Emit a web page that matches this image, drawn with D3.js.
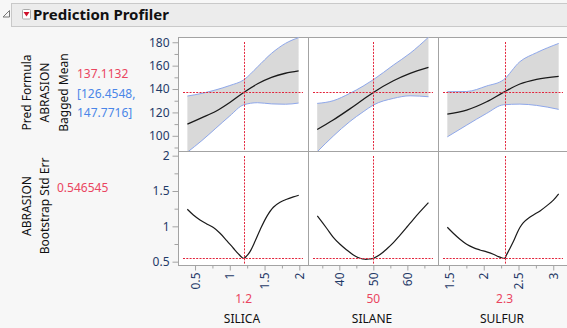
<!DOCTYPE html>
<html><head><meta charset="utf-8">
<script src="https://cdn.jsdelivr.net/npm/d3@7"></script>
<style>
html,body{margin:0;padding:0;background:#f7f7f7;}
svg{display:block;font-family:"Noto Sans","Open Sans",sans-serif;}
</style></head><body>
<svg id="c" width="567" height="328"></svg>
<script>
// ---------- data ----------
const factors = ["SILICA", "SILANE", "SULFUR"];
const currentX = [1.2, 50, 2.3];
const currentLabels = ["1.2", "50", "2.3"];
const predValue = 137.1132;
const predLower = 126.4548;
const predUpper = 147.7716;
const stdErrValue = 0.546545;

// prediction (bagged mean) with confidence band
const silicaX = [0.39, 0.6, 0.8, 1.0, 1.2, 1.4, 1.6, 1.8, 1.99];
const silicaMean = [110, 115.5, 121, 128.5, 137.1, 144.5, 150, 153.5, 155.5];
const silicaUpper = [134, 136.3, 139.3, 143, 147.8, 159, 170.5, 179, 184];
const silicaLower = [86, 96, 106.5, 117, 126.5, 128.3, 127.3, 127, 128];

const silaneX = [33.5, 38.2, 43.1, 47, 50, 55.9, 60.8, 66.2];
const silaneMean = [105.4, 113.5, 123, 131, 137.1, 147.1, 153.4, 158.6];
const silaneUpper = [127.7, 130, 136.3, 142.5, 148, 160.5, 170.6, 184.3];
const silaneLower = [86.3, 99.7, 112.2, 120.5, 126.3, 132, 134.2, 133.4];

const sulfurX = [1.476, 1.754, 2.042, 2.282, 2.52, 2.76, 3.078];
const sulfurMean = [118.6, 122, 129.1, 137.1, 144.3, 148.3, 150.9];
const sulfurUpper = [137.7, 137.9, 142.6, 147.8, 163.4, 171.1, 179];
const sulfurLower = [99.1, 109.1, 119.2, 126.5, 127.1, 126, 122.6];

// bootstrap std err
const silicaSEx = [0.389, 0.476, 0.572, 0.668, 0.764, 0.860, 0.956, 1.052, 1.124, 1.172, 1.2, 1.243, 1.291, 1.363, 1.435, 1.531, 1.627, 1.723, 1.819, 1.914, 1.992];
const silicaSE = [1.242, 1.161, 1.091, 1.034, 0.982, 0.902, 0.798, 0.690, 0.610, 0.563, 0.5465, 0.581, 0.643, 0.788, 0.949, 1.138, 1.270, 1.340, 1.383, 1.416, 1.440];

const silaneSEx = [33.54, 36.28, 38.24, 40.21, 42.17, 44.13, 46.09, 47.56, 49.03, 50, 51.97, 53.93, 55.89, 57.85, 59.81, 61.77, 63.74, 66.19];
const silaneSE = [1.147, 0.973, 0.845, 0.746, 0.666, 0.595, 0.548, 0.534, 0.539, 0.5465, 0.600, 0.680, 0.770, 0.876, 0.987, 1.100, 1.208, 1.336];

const sulfurSEx = [1.476, 1.562, 1.658, 1.754, 1.850, 1.946, 2.042, 2.138, 2.210, 2.258, 2.3, 2.329, 2.378, 2.426, 2.474, 2.522, 2.570, 2.642, 2.714, 2.810, 2.906, 3.002, 3.078];
const sulfurSE = [0.987, 0.902, 0.817, 0.746, 0.699, 0.666, 0.638, 0.605, 0.572, 0.556, 0.5465, 0.600, 0.690, 0.784, 0.892, 0.987, 1.053, 1.114, 1.161, 1.218, 1.290, 1.370, 1.458];

const topTicks = [100, 120, 140, 160, 180];
const topMinor = [90, 110, 130, 150, 170];
const botTicks = [0.5, 1, 1.5, 2];
const botTickLabels = ["0.5", "1", "1.5", "2"];
const botMinor = [0.75, 1.25, 1.75];
const xTicks = [[0.5, 1, 1.5, 2], [40, 50, 60], [1.5, 2, 2.5, 3]];
const xTickLabels = [["0.5", "1", "1.5", "2"], ["40", "50", "60"], ["1.5", "2", "2.5", "3"]];
const xMinor = [[0.75, 1.25, 1.75], [35, 45, 55, 65], [1.75, 2.25, 2.75]];

// ---------- layout ----------
const svg = d3.select("#c");
const W = 567, H = 328;
const pw = 130, px0 = 178;
const top0 = 37, mid = 151, bot = 265;
const xDomains = [[0.255, 2.125], [30.8, 69.0], [1.342, 3.212]];
const xs = xDomains.map((d, i) => d3.scaleLinear().domain(d).range([px0 + i * pw, px0 + (i + 1) * pw]));
const yTop = d3.scaleLinear().domain([87, 184.5]).range([mid, top0]);
const yBot = d3.scaleLinear().domain([0.453, 2.066]).range([bot, mid]);

const tickColor = "#1f3a68";
const red = "#e3243b";
const redText = "#ea4560";
const blueText = "#4a86e8";
const grid = "#a3a3a3";

svg.append("rect").attr("width", W).attr("height", H).attr("fill", "#f7f7f7");

// title bar
svg.append("rect").attr("x", 11.5).attr("y", 3.5).attr("width", W).attr("height", 23)
  .attr("fill", "#ececec").attr("stroke", "#c9c9c9");
svg.append("path").attr("d", "M3,17 L9.5,17 L9.5,10.5 Z").attr("fill", "none").attr("stroke", "#777").attr("stroke-width", 1);
svg.append("rect").attr("x", 22.5).attr("y", 9.5).attr("width", 8).attr("height", 9.5)
  .attr("fill", "#fff").attr("stroke", "#aaa").attr("rx", 1);
svg.append("path").attr("d", "M23.5,12 L29.5,12 L26.5,16.5 Z").attr("fill", "#d0102a");
svg.append("text").attr("x", 33).attr("y", 20).attr("font-size", 15).attr("font-weight", "bold")
  .attr("fill", "#111").text("Prediction Profiler");

const series = [
  {x: silicaX, m: silicaMean, u: silicaUpper, l: silicaLower, sx: silicaSEx, se: silicaSE},
  {x: silaneX, m: silaneMean, u: silaneUpper, l: silaneLower, sx: silaneSEx, se: silaneSE},
  {x: sulfurX, m: sulfurMean, u: sulfurUpper, l: sulfurLower, sx: sulfurSEx, se: sulfurSE}
];

const defs = svg.append("defs");
factors.forEach((f, i) => {
  defs.append("clipPath").attr("id", "ct" + i).append("rect")
    .attr("x", px0 + i * pw).attr("y", top0).attr("width", pw).attr("height", mid - top0);
  defs.append("clipPath").attr("id", "cb" + i).append("rect")
    .attr("x", px0 + i * pw).attr("y", mid).attr("width", pw).attr("height", bot - mid);
});

// panels
for (let i = 0; i < 3; i++) {
  for (const [y0, y1] of [[top0, mid], [mid, bot]]) {
    svg.append("rect").attr("x", px0 + i * pw + 0.5).attr("y", y0 + 0.5)
      .attr("width", pw).attr("height", y1 - y0).attr("fill", "#fff").attr("stroke", grid);
  }
}

const curve = d3.curveMonotoneX;
series.forEach((s, i) => {
  const x = xs[i];
  const gT = svg.append("g").attr("clip-path", `url(#ct${i})`);
  const pts = s.x.map((v, k) => ({x: v, m: s.m[k], u: s.u[k], l: s.l[k]}));
  gT.append("path").datum(pts)
    .attr("d", d3.area().x(d => x(d.x)).y0(d => yTop(d.l)).y1(d => yTop(d.u)).curve(curve))
    .attr("fill", "#d9d9d9");
  gT.append("path").datum(pts)
    .attr("d", d3.line().x(d => x(d.x)).y(d => yTop(d.u)).curve(curve))
    .attr("fill", "none").attr("stroke", "#8ea7ea").attr("stroke-width", 1);
  gT.append("path").datum(pts)
    .attr("d", d3.line().x(d => x(d.x)).y(d => yTop(d.l)).curve(curve))
    .attr("fill", "none").attr("stroke", "#8ea7ea").attr("stroke-width", 1);
  gT.append("path").datum(pts)
    .attr("d", d3.line().x(d => x(d.x)).y(d => yTop(d.m)).curve(curve))
    .attr("fill", "none").attr("stroke", "#1a1a1a").attr("stroke-width", 1.3);

  const gB = svg.append("g").attr("clip-path", `url(#cb${i})`);
  const sp = s.sx.map((v, k) => ({x: v, y: s.se[k]}));
  gB.append("path").datum(sp)
    .attr("d", d3.line().x(d => x(d.x)).y(d => yBot(d.y)).curve(d3.curveCatmullRom))
    .attr("fill", "none").attr("stroke", "#1a1a1a").attr("stroke-width", 1.2);

  // reference lines
  const x0 = px0 + i * pw, x1 = x0 + pw;
  const cx = Math.round(x(currentX[i])) + 0.5;
  const refs = svg.append("g").attr("stroke", red).attr("stroke-dasharray", "2,1.3");
  refs.append("line").attr("x1", x0 + 5).attr("x2", x1 - 5)
    .attr("y1", Math.round(yTop(predValue)) + 0.5).attr("y2", Math.round(yTop(predValue)) + 0.5);
  refs.append("line").attr("x1", x0 + 5).attr("x2", x1 - 5)
    .attr("y1", Math.round(yBot(stdErrValue)) + 0.5).attr("y2", Math.round(yBot(stdErrValue)) + 0.5);
  refs.append("line").attr("x1", cx).attr("x2", cx).attr("y1", top0 + 5).attr("y2", mid - 1);
  refs.append("line").attr("x1", cx).attr("x2", cx).attr("y1", mid + 5).attr("y2", bot - 1);

  // x axis
  const ax = svg.append("g").attr("transform", `translate(0,${bot + 0.5})`);
  ax.call(d3.axisBottom(x).tickValues(xTicks[i]).tickSize(5).tickFormat((d, k) => xTickLabels[i][k]));
  ax.select(".domain").remove();
  ax.selectAll("line").attr("stroke", grid);
  ax.selectAll("text").attr("fill", tickColor).attr("font-size", 12)
    .attr("font-family", "Noto Sans")
    .attr("transform", "rotate(-90)").attr("text-anchor", "end")
    .attr("x", -7).attr("y", 0).attr("dy", "0.35em");
  const axm = svg.append("g").attr("transform", `translate(0,${bot + 0.5})`);
  axm.call(d3.axisBottom(x).tickValues(xMinor[i]).tickSize(3).tickFormat(""));
  axm.select(".domain").remove();
  axm.selectAll("line").attr("stroke", grid);

  svg.append("text").attr("x", x(currentX[i])).attr("y", 302.5).attr("text-anchor", "middle")
    .attr("font-size", 12).attr("fill", redText).text(currentLabels[i]);
  svg.append("text").attr("x", x0 + pw / 2 - 1).attr("y", 322.5).attr("text-anchor", "middle")
    .attr("font-size", 12).attr("fill", "#111").text(factors[i]);
});

// y axes
function yAxis(scale, ticks, labels, minor) {
  const g = svg.append("g").attr("transform", `translate(${px0 + 0.5},0)`);
  g.call(d3.axisLeft(scale).tickValues(ticks).tickSize(6).tickFormat((d, k) => labels[k]));
  g.select(".domain").remove();
  g.selectAll("line").attr("stroke", grid);
  g.selectAll("text").attr("fill", tickColor).attr("font-size", 12).attr("font-family", "Noto Sans").attr("x", -9);
  const m = svg.append("g").attr("transform", `translate(${px0 + 0.5},0)`);
  m.call(d3.axisLeft(scale).tickValues(minor).tickSize(4).tickFormat(""));
  m.select(".domain").remove();
  m.selectAll("line").attr("stroke", grid);
}
yAxis(yTop, topTicks, topTicks.map(String), topMinor);
yAxis(yBot, botTicks, botTickLabels, botMinor);

// left row labels
function rotLabel(x, y, t) {
  svg.append("text").attr("transform", `translate(${x},${y}) rotate(-90)`)
    .attr("text-anchor", "middle").attr("dy", "0.35em").attr("font-size", 12).attr("fill", "#111").text(t);
}
rotLabel(26.5, 92.5, "Pred Formula");
rotLabel(45, 92.5, "ABRASION");
rotLabel(63.5, 92.5, "Bagged Mean");
rotLabel(26.5, 206, "ABRASION");
rotLabel(44.7, 206, "Bootstrap Std Err");

svg.append("text").attr("x", 77).attr("y", 77.5).attr("font-size", 12).attr("fill", redText).text(predValue.toFixed(4));
svg.append("text").attr("x", 77).attr("y", 97.5).attr("font-size", 12).attr("fill", blueText).text("[" + predLower.toFixed(4) + ",");
svg.append("text").attr("x", 77).attr("y", 116.5).attr("font-size", 12).attr("fill", blueText).text(predUpper.toFixed(4) + "]");
svg.append("text").attr("x", 57).attr("y", 192).attr("font-size", 12).attr("fill", redText).text(String(stdErrValue));
</script>
</body></html>
